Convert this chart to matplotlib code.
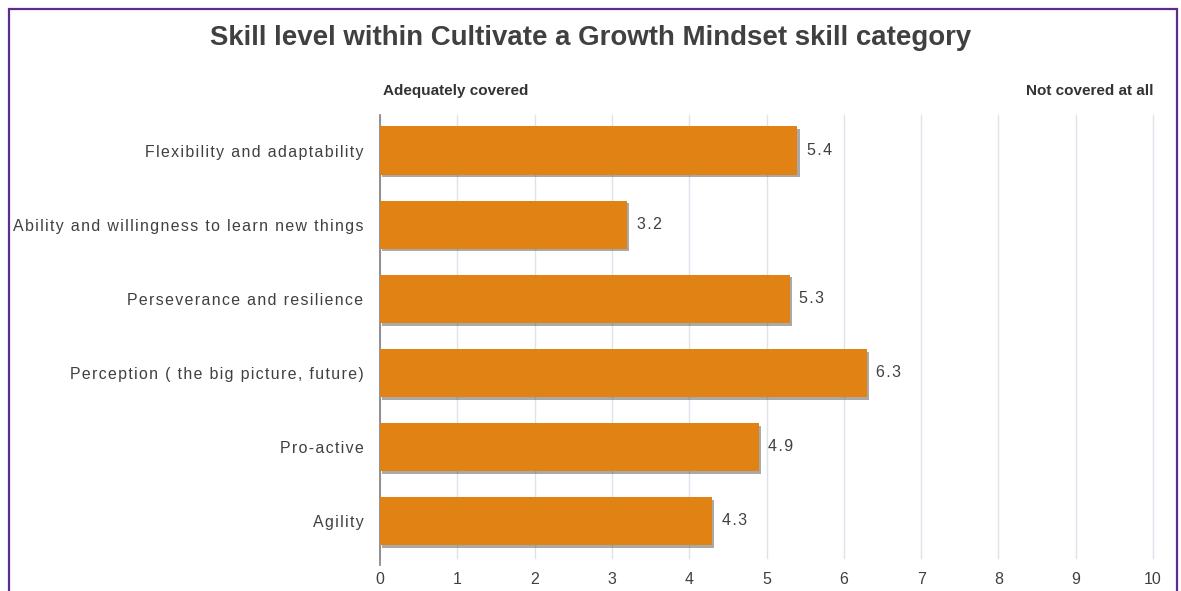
import matplotlib.pyplot as plt
import matplotlib.patheffects as pe
from matplotlib.patches import Rectangle

skills = [
    "Flexibility and adaptability",
    "Ability and willingness to learn new things",
    "Perseverance and resilience",
    "Perception ( the big picture, future)",
    "Pro-active",
    "Agility",
]
scores = [5.4, 3.2, 5.3, 6.3, 4.9, 4.3]
x_ticks = list(range(0, 11))

plt.rcParams["font.family"] = ["Liberation Sans", "DejaVu Sans"]


def spaced(s):
    # widen the tracking a little with hair spaces between letters
    return "\u200a".join(s)


fig = plt.figure(figsize=(11.81, 5.91), dpi=100)
W, H = 1181, 591

# purple frame around the chart
fig.patches.append(
    Rectangle((9 / W, -0.05), (1177 - 9) / W, 1.05 - 9 / H,
              transform=fig.transFigure, fill=False,
              edgecolor="#5b2d8e", linewidth=1.6)
)

ax = fig.add_axes([380 / W, (H - 558) / H, (1153 - 380) / W, (558 - 115) / H])

y = list(range(len(skills)))
bars = ax.barh(y, scores, height=0.65, color="#e08214", zorder=3)
for b in bars:
    b.set_path_effects([
        pe.SimplePatchShadow(offset=(1.5, -2), shadow_rgbFace="#555555", alpha=0.5),
        pe.Normal(),
    ])

for yi, v in zip(y, scores):
    ax.text(v + 0.12, yi, spaced(f"{v:.1f}"), va="center", ha="left",
            fontsize=11.5, color="#404040")

ax.set_xlim(0, 10)
ax.set_ylim(len(skills) - 0.5, -0.48)
ax.set_xticks(x_ticks)
ax.set_xticklabels([str(t) for t in x_ticks], fontsize=11.5, color="#404040")
ax.set_yticks(y)
ax.set_yticklabels([spaced(s) for s in skills], fontsize=11.4, color="#404040")
ax.tick_params(axis="x", length=0, pad=10)
ax.tick_params(axis="y", length=0, pad=12)

ax.grid(axis="x", color="#dde3ea", linewidth=1, zorder=0)
for gl in ax.get_xgridlines():
    gl.set_clip_on(False)
for side in ["top", "right", "bottom"]:
    ax.spines[side].set_visible(False)
ax.spines["left"].set_color("#808080")
ax.spines["left"].set_linewidth(1.2)
ax.spines["left"].set_bounds(len(skills) - 0.4, -0.48)

fig.text(0.5, (H - 38) / H, "Skill level within Cultivate a Growth Mindset skill category",
         ha="center", va="center", fontsize=19.9, fontweight="bold", color="#404040")
fig.text(383 / W, (H - 91) / H, "Adequately covered", ha="left", va="center",
         fontsize=11, fontweight="bold", color="#333333")
fig.text(1154 / W, (H - 91) / H, "Not covered at all", ha="right", va="center",
         fontsize=11, fontweight="bold", color="#333333")

fig.savefig("out.png", dpi=100)
